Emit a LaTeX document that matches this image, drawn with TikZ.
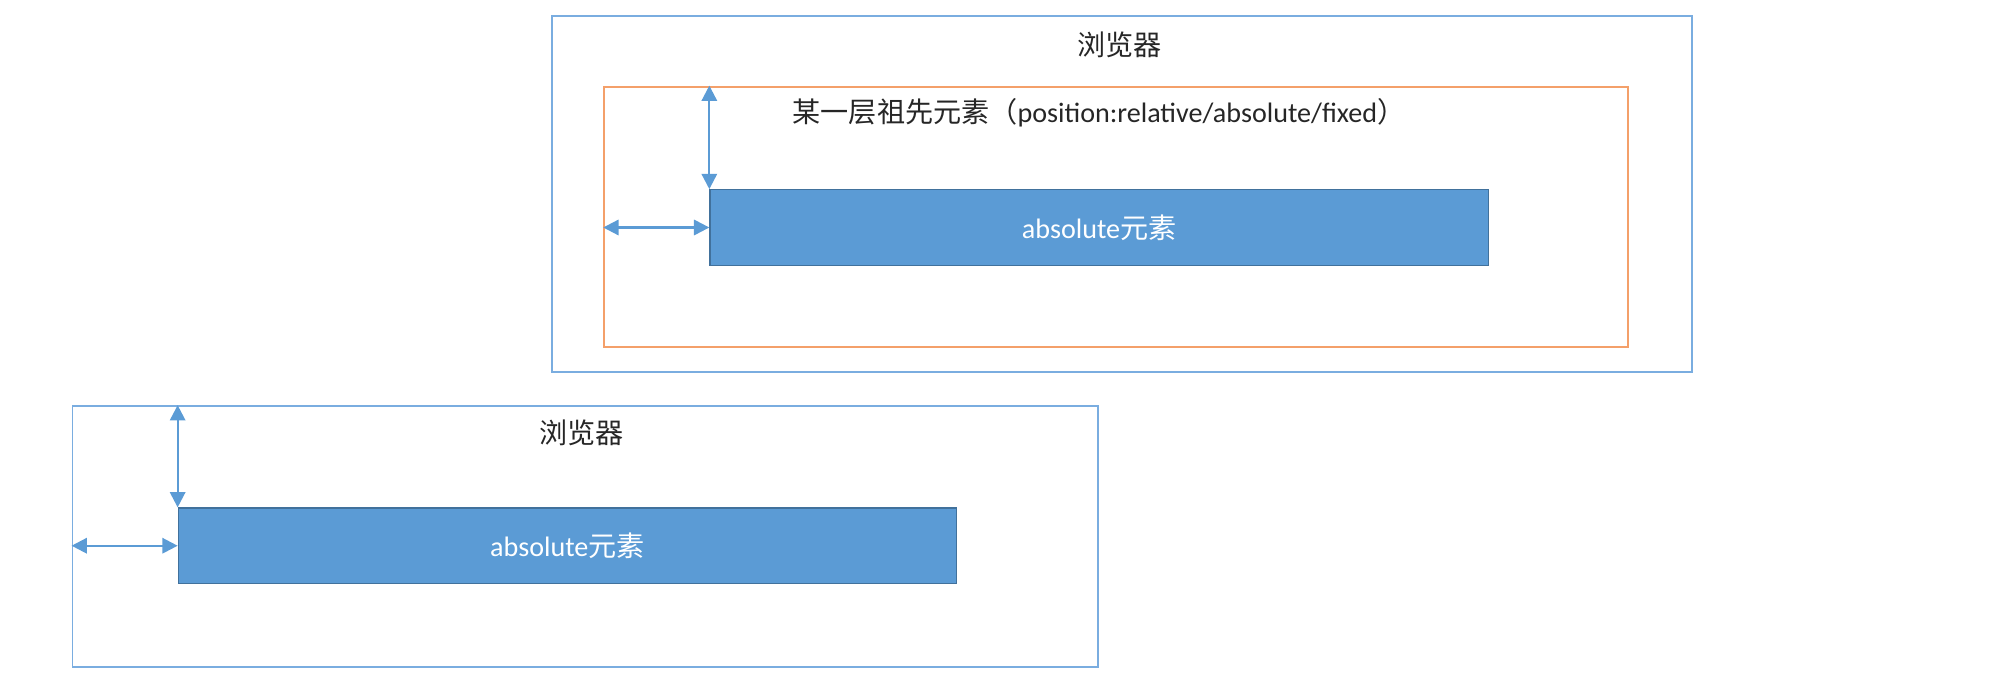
\documentclass[tikz,border=0pt]{standalone}
\usepackage{fontspec}
\setmainfont{Carlito}
\newfontfamily\cjk{Noto Sans CJK SC}
\usetikzlibrary{arrows.meta}
\definecolor{frameblue}{HTML}{7AADE0}
\definecolor{orangeline}{HTML}{F4A06A}
\definecolor{boxfill}{HTML}{5B9BD5}
\definecolor{boxedge}{HTML}{41719C}
\definecolor{arrowblue}{HTML}{5B9BD5}
\begin{document}
\begin{tikzpicture}[x=1pt,y=-1pt,
  browser/.style={draw=frameblue, line width=1.5pt, anchor=north west, inner sep=0pt},
  ancestor/.style={draw=orangeline, line width=1.5pt, anchor=north west, inner sep=0pt},
  abselem/.style={draw=boxedge, fill=boxfill, line width=1pt, anchor=north west,
    minimum width=609pt, minimum height=59pt, inner sep=0pt, text=white,
    font=\fontsize{22}{26}\selectfont},
  lbl/.style={inner sep=0pt, font=\fontsize{22}{26}\selectfont, text=black!85},
  dimarrow/.style={draw=arrowblue, line width=1.8pt,
    {Triangle[width=12pt,length=12pt]}-{Triangle[width=12pt,length=12pt]}}
]
\useasboundingbox (0,0) rectangle (1568,537);
% upper diagram
\node[browser, minimum width=892pt, minimum height=278pt] (br1) at (431,12) {};
\node[lbl] (br1t) at (876,35) {\cjk 浏览器};
\node[ancestor, minimum width=801pt, minimum height=204pt] (anc) at (472,67) {};
\node[lbl, anchor=west] (anct) at (620,88) {{\cjk 某一层祖先元素（}position:relative/absolute/fixed{\cjk ）}};
\node[abselem] (abs1) at (555,148) {absolute{\cjk 元素}};
\draw[dimarrow] (abs1.north west |- anc.north) -- (abs1.north west);
\draw[dimarrow] (anc.west |- abs1.west) -- (abs1.west);
% lower diagram
\node[browser, minimum width=802pt, minimum height=204pt] (br2) at (56,317) {};
\node[lbl] (br2t) at (455,339) {\cjk 浏览器};
\node[abselem] (abs2) at (139,397) {absolute{\cjk 元素}};
\draw[dimarrow] (abs2.north west |- br2.north) -- (abs2.north west);
\draw[dimarrow] (br2.west |- abs2.west) -- (abs2.west);
\end{tikzpicture}
\end{document}
